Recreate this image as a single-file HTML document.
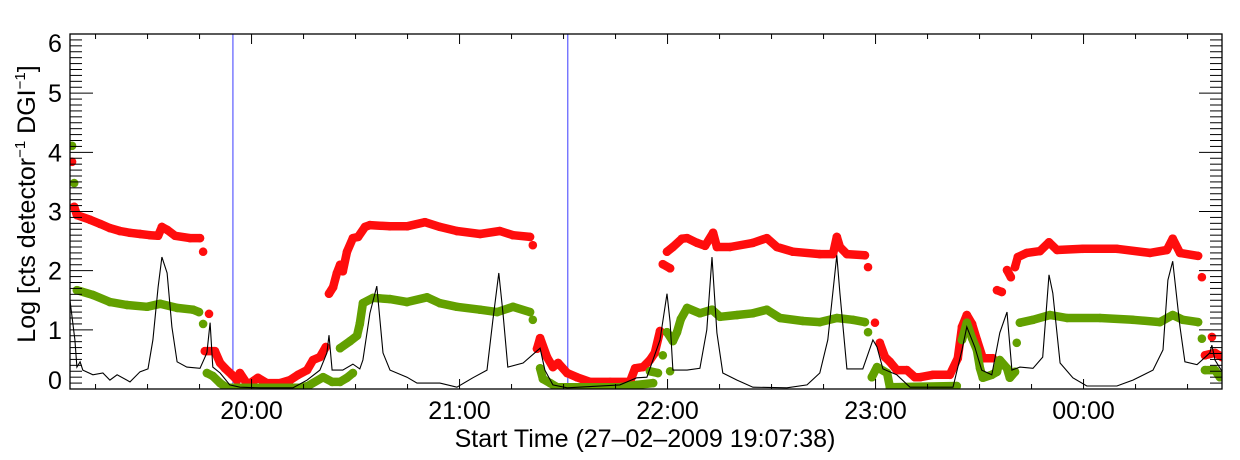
<!DOCTYPE html>
<html><head><meta charset="utf-8"><style>
html,body{margin:0;padding:0;background:#fff;}
svg{display:block;font-family:"Liberation Sans",Arial,sans-serif;}
</style></head><body>
<svg id="chart" width="1240" height="460" viewBox="0 0 1240 460" xmlns="http://www.w3.org/2000/svg">
<defs><clipPath id="pc"><rect x="70" y="34" width="1152" height="355"/></clipPath></defs>
<g id="plot" clip-path="url(#pc)"></g>
<g id="axes"></g>
<text x="645" y="447" font-size="25" text-anchor="middle">Start Time (27–02–2009 19:07:38)</text>
<text transform="translate(35,204) rotate(-90)" font-size="25" text-anchor="middle">Log [cts detector<tspan dy="-10" font-size="15">−1</tspan><tspan dy="10"> DGI</tspan><tspan dy="-10" font-size="15">−1</tspan><tspan dy="10">]</tspan></text>
</svg>
<script>
// time in minutes since 19:07:38, values in log counts (null = gap)
const redT=[0.6,null,1.2,2.0,5.8,8.7,11.5,14.4,17.3,20.2,23.1,25.4,26.5,28.0,30.3,34.6,37.5,null,38.4,null,40.1,null,38.9,41.8,43.3,44.7,46.7,48.2,49.0,51.3,54.2,56.8,60.6,63.5,65.8,68.4,70.1,72.1,73.8,null,74.7,75.9,77.0,77.9,78.7,79.9,81.6,83.1,85.1,86.5,92.3,97.2,102.4,106.7,111.6,118.3,124.0,127.8,132.7,null,133.5,null,134.7,135.6,137.6,139.3,140.8,143.4,146.2,150.0,155.8,161.5,163.0,165.3,167.3,168.7,170.2,null,171.0,173.1,null,172.2,173.9,176.5,178.0,180.9,183.2,185.5,186.6,190.4,197.0,201.0,203.9,208.5,216.3,220.1,221.2,222.1,224.1,229.3,null,230.2,null,232.2,null,233.6,235.1,236.5,238.5,241.4,243.7,245.2,248.9,253.8,256.1,257.3,258.7,260.2,261.6,263.3,266.2,null,267.4,268.8,null,270.3,271.4,null,272.6,273.4,276.0,279.8,282.4,284.7,292.2,302.0,311.5,316.4,318.1,320.2,325.4,null,326.5,null,329.4,null,327.4,330.3,332.3];
const redV=[3.84,null,3.08,2.94,2.86,2.79,2.72,2.67,2.64,2.62,2.60,2.59,2.74,2.69,2.59,2.55,2.55,null,2.32,null,1.27,null,0.64,0.64,0.44,0.35,0.24,0.15,0.27,0.07,0.19,0.10,0.10,0.15,0.24,0.32,0.49,0.54,0.71,null,1.61,1.72,1.96,2.10,1.99,2.32,2.55,2.57,2.74,2.77,2.75,2.75,2.82,2.74,2.67,2.62,2.67,2.60,2.57,null,2.43,null,0.68,0.86,0.54,0.37,0.44,0.27,0.20,0.12,0.12,0.12,0.35,0.37,0.49,0.61,0.98,null,2.11,2.04,null,2.32,2.40,2.54,2.55,2.47,2.42,2.64,2.40,2.40,2.47,2.55,2.40,2.32,2.28,2.28,2.57,2.40,2.28,2.26,null,2.06,null,1.12,null,0.78,0.54,0.46,0.32,0.32,0.20,0.20,0.24,0.24,0.52,1.05,1.25,1.10,0.83,0.52,0.52,null,1.67,1.64,null,2.01,1.89,null,2.06,2.23,2.30,2.33,2.48,2.35,2.37,2.37,2.30,2.35,2.54,2.30,2.25,null,1.89,null,0.88,null,0.57,0.61,0.54];
const greenT=[0.6,null,1.2,null,2.0,6.6,11.5,16.4,22.2,26.0,30.9,35.5,37.2,null,38.4,null,39.5,41.2,43.3,45.3,66.3,68.6,73.0,75.6,77.9,79.9,81.6,null,77.9,80.8,82.8,83.6,84.5,87.4,92.3,97.2,103.0,106.7,111.6,118.3,123.2,127.8,132.7,null,133.5,null,135.6,136.4,138.5,140.5,158.6,163.5,168.2,null,167.3,169.6,null,171.0,null,173.1,null,172.2,173.9,175.1,176.2,178.0,181.7,185.2,187.5,192.4,197.0,201.0,204.8,211.4,216.3,221.2,225.8,229.3,null,230.2,null,231.3,232.8,235.7,236.5,255.8,null,257.3,258.7,260.2,261.6,262.5,263.3,265.9,267.4,268.2,270.3,271.1,272.6,null,273.1,null,274.0,277.8,282.7,287.6,297.1,306.6,314.4,318.1,321.0,325.4,null,326.5,null,327.4,330.3,331.7];
const greenV=[4.11,null,3.48,null,1.67,1.59,1.47,1.42,1.39,1.44,1.37,1.34,1.30,null,1.10,null,0.27,0.22,0.10,0.02,0.02,0.05,0.20,0.12,0.12,0.19,0.27,null,0.69,0.81,0.90,1.10,1.45,1.54,1.52,1.47,1.55,1.45,1.39,1.34,1.30,1.39,1.30,null,1.17,null,0.35,0.17,0.10,0.03,0.03,0.07,0.10,null,0.30,0.27,null,0.57,null,0.30,null,0.96,0.81,0.96,1.18,1.37,1.28,1.34,1.22,1.25,1.28,1.34,1.20,1.15,1.13,1.20,1.17,1.13,null,0.96,null,0.20,0.37,0.27,0.03,0.05,null,0.83,1.12,0.86,0.66,0.35,0.19,0.24,0.29,0.49,0.35,0.19,0.29,null,0.78,null,1.12,1.17,1.25,1.20,1.20,1.17,1.13,1.25,1.17,1.13,null,0.85,null,0.32,0.32,0.20];
const blackT=[0,1.4,2.0,2.9,3.7,6.6,9.5,11.5,13.6,17.3,20.2,22.5,23.9,25.4,26.5,28.0,29.4,30.9,33.7,37.5,39.5,40.4,41.2,43.3,46.1,49.0,54.8,64.3,68.4,72.1,74.1,74.7,75.6,78.7,81.6,83.6,84.5,86.5,88.5,90.3,92.3,97.2,100.1,106.7,111.6,116.2,120.3,122.0,123.7,124.9,126.3,130.7,135.6,137.0,139.3,143.4,158.6,163.5,166.4,170.2,172.2,173.1,173.9,178.0,181.7,183.7,185.2,186.6,188.3,192.4,197.0,206.8,212.6,216.3,218.6,221.2,222.1,224.1,228.7,231.6,232.8,234.5,238.5,242.3,254.7,257.3,258.7,261.0,263.0,265.9,268.2,270.3,271.7,274.0,277.8,280.6,282.4,283.5,285.6,289.3,293.3,302.0,306.6,312.4,315.3,316.7,318.1,320.2,321.6,325.1,328.8,329.4,330.3,332.6];
const blackV=[1.50,0.83,0.37,0.46,0.32,0.24,0.27,0.15,0.24,0.12,0.29,0.34,0.83,1.72,2.23,1.96,1.05,0.46,0.37,0.35,0.61,1.12,0.37,0.27,0.07,0.03,0.02,0.02,0.15,0.32,0.61,0.91,0.32,0.32,0.42,0.34,0.49,1.28,1.74,0.61,0.32,0.20,0.10,0.10,0.03,0.19,0.32,1.17,1.96,1.28,0.37,0.44,0.69,0.32,0.07,0.02,0.07,0.19,0.20,0.83,1.61,1.13,0.32,0.32,0.35,1.00,2.23,0.95,0.27,0.15,0.03,0.02,0.07,0.27,0.83,2.26,1.62,0.34,0.34,0.83,0.71,0.34,0.24,0.03,0.03,0.66,1.05,0.71,0.32,0.24,0.95,1.30,0.32,0.37,0.35,0.54,1.93,1.62,0.44,0.19,0.05,0.05,0.15,0.32,0.66,1.84,2.16,1.05,0.46,0.41,0.61,0.74,0.49,0.27];
const markerT=[47.0,143.6];
const yTicks=[0,1,2,3,4,5,6];
const xTickLabels=["20:00","21:00","22:00","23:00","00:00"];
const firstHourT=52.37;

const NS="http://www.w3.org/2000/svg";
const X0=70,X1=1222,Y0=389,Y1=34,TMAX=(X1-X0)*60/208;
const xs=t=>X0+(t/TMAX)*(X1-X0);
const ys=v=>Y0-(v/6)*(Y0-Y1);
const plot=document.getElementById('plot'),axes=document.getElementById('axes');
function mk(tag,attrs,parent){const e=document.createElementNS(NS,tag);for(const k in attrs)e.setAttribute(k,attrs[k]);parent.appendChild(e);return e;}

markerT.forEach((t,i)=>{const l=mk('line',{x1:xs(t),x2:xs(t),y1:Y1,y2:Y0,stroke:'#3a3aff','stroke-width':1},plot);

});

function scatter(T,V,color,name){
  const g=mk('g',{},plot);
  
  
  let seg=[];
  const flush=()=>{if(seg.length>1){const p=mk('polyline',{points:seg.map(q=>q.join(',')).join(' '),fill:'none',stroke:color,'stroke-width':8.5,'stroke-linecap':'round','stroke-linejoin':'round'},g);
    
    }seg=[];};
  for(let i=0;i<T.length;i++){
    if(T[i]===null||V[i]===null){flush();continue;}
    const x=xs(T[i]),y=ys(V[i]);seg.push([x.toFixed(1),y.toFixed(1)]);
    const c=mk('circle',{cx:x,cy:y,r:4.3,fill:color},g);
    
    
  }
  flush();
}
scatter(redT,redV,'#ff0d0d','red-series');
scatter(greenT,greenV,'#62a000','green-series');

const bl=mk('polyline',{points:blackT.map((t,i)=>xs(t).toFixed(1)+','+ys(blackV[i]).toFixed(1)).join(' '),fill:'none',stroke:'#000','stroke-width':1.1},plot);



const fr=mk('rect',{x:X0,y:Y1,width:X1-X0,height:Y0-Y1,fill:'none',stroke:'#000','stroke-width':1.3},axes);



for(let k=0;k<=60;k++){const v=k/10,y=ys(v),len=(k%10===0)?23:12;
  mk('line',{x1:X0,x2:X0+len,y1:y,y2:y,stroke:'#000','stroke-width':1},axes);
  mk('line',{x1:X1,x2:X1-len,y1:y,y2:y,stroke:'#000','stroke-width':1},axes);}
yTicks.forEach(v=>{let cy=ys(v);if(v===0)cy-=9;if(v===6)cy+=9;
  const t=mk('text',{x:55,y:cy+9,'font-size':25,'text-anchor':'middle'},axes);t.textContent=String(v);
  
  });

for(let t=firstHourT-45;t<TMAX;t+=15){if(t<0)continue;const x=xs(t);const major=Math.abs(((t-firstHourT)/60)-Math.round((t-firstHourT)/60))<0.01;const len=major?10:5;
  mk('line',{x1:x,x2:x,y1:Y0,y2:Y0-len,stroke:'#000','stroke-width':1},axes);
  mk('line',{x1:x,x2:x,y1:Y1,y2:Y1+len,stroke:'#000','stroke-width':1},axes);}
xTickLabels.forEach((s,i)=>{const t=mk('text',{x:xs(firstHourT+60*i),y:419,'font-size':25,'text-anchor':'middle'},axes);t.textContent=s;
  
  });
</script>
</body></html>
